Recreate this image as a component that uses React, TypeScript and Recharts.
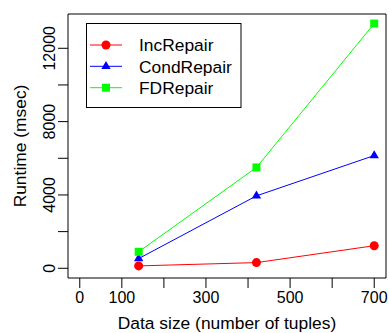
import React from 'react';
import { LineChart, Line, XAxis, YAxis, ReferenceArea, Legend, Label } from 'recharts';

// Data size (number of tuples) and runtimes in msec
const sizes = [140, 420, 700];
const incRepair = [130, 310, 1230];
const condRepair = [530, 3950, 6150];
const fdRepair = [900, 5500, 13350];

const seriesKeys = ['inc', 'cond', 'fd'];
const seriesNames = ['IncRepair', 'CondRepair', 'FDRepair'];
const seriesColors = ['#ff0000', '#0000ff', '#00ff00'];
const seriesShapes = ['circle', 'triangle', 'square'];

const xTicks = [0, 100, 200, 300, 400, 500, 600, 700];
const xTickLabels = [0, 100, 300, 500, 700];
const yTicks = [0, 2000, 4000, 6000, 8000, 10000, 12000];
const yTickLabels = [0, 4000, 8000, 12000];

const xDomain = [-28, 728];
const yDomain = [-530, 13870];

const FONT = '"Liberation Sans", Arial, Helvetica, sans-serif';

const data = sizes.map((s, i) => ({
  size: s,
  inc: incRepair[i],
  cond: condRepair[i],
  fd: fdRepair[i],
}));

function Marker({ shape, cx, cy, color }: { shape: string; cx: number; cy: number; color: string }) {
  if (shape === 'circle') return <circle cx={cx} cy={cy} r={4.5} fill={color} stroke="none" />;
  if (shape === 'triangle') {
    const r = 5.4;
    const pts = [
      [cx, cy - r],
      [cx - r * 0.866, cy + r / 2],
      [cx + r * 0.866, cy + r / 2],
    ]
      .map((p) => p.join(','))
      .join(' ');
    return <polygon points={pts} fill={color} stroke="none" />;
  }
  return <rect x={cx - 4} y={cy - 4} width={8} height={8} fill={color} stroke="none" />;
}

const makeDot = (shape: string, color: string) => (props: any) => {
  const { cx, cy, index } = props;
  return (
    <g key={`${shape}-${index}`}>
      <Marker shape={shape} cx={cx} cy={cy} color={color} />
    </g>
  );
};

const XTick = (props: any) => {
  const { x, y, payload } = props;
  if (!xTickLabels.includes(payload.value)) return <g />;
  return (
    <text x={x} y={y + 13} textAnchor="middle" fontSize={16} fontFamily={FONT} fill="#000">
      {payload.value}
    </text>
  );
};

const YTick = (props: any) => {
  const { x, y, payload } = props;
  if (!yTickLabels.includes(payload.value)) return <g />;
  const bx = x - 1;
  return (
    <text
      x={bx}
      y={y}
      transform={`rotate(-90 ${bx} ${y})`}
      textAnchor="middle"
      fontSize={16}
      fontFamily={FONT}
      fill="#000"
    >
      {payload.value}
    </text>
  );
};

const LegendBox = () => {
  const rowY = [22, 43.3, 64.7];
  return (
    <svg width={156} height={86} style={{ display: 'block' }}>
      <rect x={0.5} y={0.5} width={154.5} height={84} fill="#fff" stroke="#000" strokeWidth={1} />
      {seriesNames.map((name, i) => (
        <g key={name}>
          <line x1={4} x2={36} y1={rowY[i]} y2={rowY[i]} stroke={seriesColors[i]} strokeWidth={1} />
          <Marker shape={seriesShapes[i]} cx={20} cy={rowY[i]} color={seriesColors[i]} />
          <text x={53} y={rowY[i] + 6.2} fontSize={17.4} fontFamily={FONT} fill="#000">
            {name}
          </text>
        </g>
      ))}
    </svg>
  );
};

export default function App() {
  return (
    <div style={{ position: 'absolute', left: 0, top: 0, background: '#fff' }}>
      <LineChart width={389} height={333} data={data} margin={{ top: 14, right: 3, bottom: 0, left: 0 }}>
        <XAxis
          type="number"
          dataKey="size"
          domain={xDomain}
          ticks={xTicks}
          interval={0}
          allowDataOverflow
          height={55}
          tickSize={10}
          axisLine={false}
          tickLine={{ stroke: '#000' }}
          tick={<XTick />}
        >
          <Label
            content={(p: any) => {
              const { x, y, width } = p.viewBox;
              return (
                <text x={x + width / 2} y={y + 51} textAnchor="middle" fontSize={17.4} fontFamily={FONT} fill="#000">
                  Data size (number of tuples)
                </text>
              );
            }}
          />
        </XAxis>
        <YAxis
          type="number"
          domain={yDomain}
          ticks={yTicks}
          interval={0}
          allowDataOverflow
          width={68}
          tickSize={10}
          axisLine={false}
          tickLine={{ stroke: '#000' }}
          tick={<YTick />}
        >
          <Label
            content={(p: any) => {
              const { y, height } = p.viewBox;
              const bx = 25.7;
              const cy = y + height / 2;
              return (
                <text
                  x={bx}
                  y={cy}
                  transform={`rotate(-90 ${bx} ${cy})`}
                  textAnchor="middle"
                  fontSize={17.4}
                  fontFamily={FONT}
                  fill="#000"
                >
                  Runtime (msec)
                </text>
              );
            }}
          />
        </YAxis>
        <ReferenceArea
          x1={xDomain[0]}
          x2={xDomain[1]}
          y1={yDomain[0]}
          y2={yDomain[1]}
          fill="none"
          fillOpacity={0}
          stroke="#000"
          strokeWidth={1}
          ifOverflow="visible"
        />
        {seriesKeys.map((k, i) => (
          <Line
            key={k}
            type="linear"
            dataKey={k}
            name={seriesNames[i]}
            stroke={seriesColors[i]}
            strokeWidth={1}
            dot={makeDot(seriesShapes[i], seriesColors[i])}
            activeDot={false}
            isAnimationActive={false}
          />
        ))}
        <Legend
          layout="vertical"
          align="center"
          verticalAlign="middle"
          wrapperStyle={{ left: 86, top: 23, width: 156, height: 86 }}
          content={() => <LegendBox />}
        />
      </LineChart>
    </div>
  );
}
